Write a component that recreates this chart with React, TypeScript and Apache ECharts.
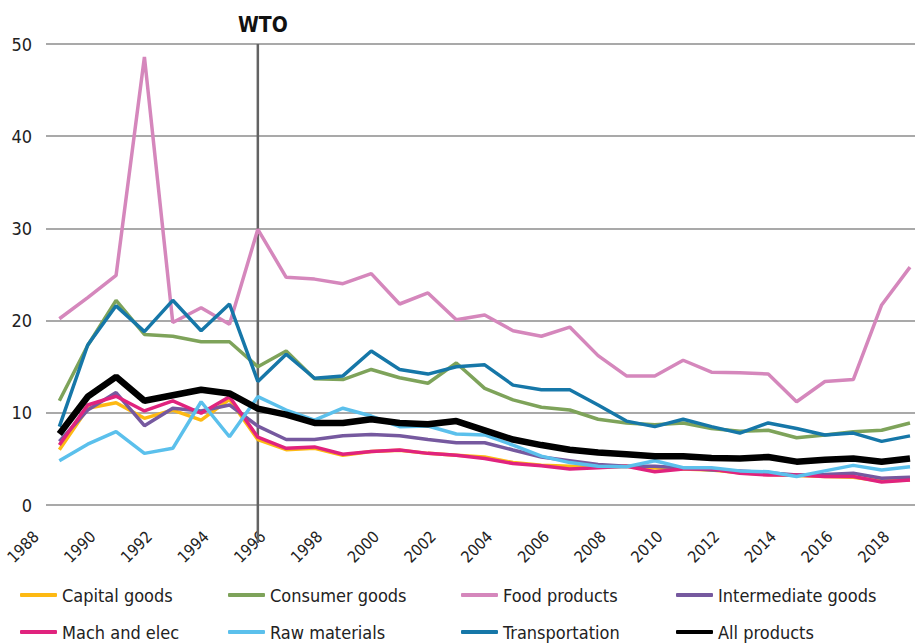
import React, { useEffect, useRef } from "react";
import * as echarts from "echarts";

const years = Array.from({ length: 31 }, (_, i) => 1989 + i);

const capitalGoods = [6.0, 10.5, 11.1, 9.4, 10.3, 9.2, 11.45, 7.1, 6.0, 6.15, 5.4, 5.8, 5.95, 5.6, 5.4, 5.2, 4.6, 4.3, 4.2, 4.1, 4.2, 4.0, 3.9, 3.8, 3.5, 3.3, 3.2, 3.1, 3.0, 2.6, 2.7];
const consumerGoods = [11.3, 17.3, 22.2, 18.5, 18.3, 17.7, 17.7, 15.0, 16.7, 13.7, 13.6, 14.7, 13.8, 13.2, 15.4, 12.65, 11.4, 10.6, 10.3, 9.3, 8.9, 8.7, 8.9, 8.3, 8.0, 8.1, 7.3, 7.6, 7.95, 8.1, 8.9];
const foodProducts = [20.2, 22.5, 24.9, 48.6, 19.8, 21.4, 19.6, 29.9, 24.7, 24.5, 24.0, 25.1, 21.8, 23.0, 20.1, 20.6, 18.9, 18.3, 19.3, 16.2, 14.0, 14.0, 15.7, 14.4, 14.35, 14.2, 11.2, 13.4, 13.6, 21.7, 25.8];
const intermediateGoods = [6.9, 10.3, 12.2, 8.6, 10.5, 10.2, 10.85, 8.55, 7.1, 7.1, 7.5, 7.65, 7.5, 7.1, 6.75, 6.75, 5.97, 5.2, 4.8, 4.4, 4.2, 4.2, 4.0, 3.8, 3.7, 3.5, 3.25, 3.3, 3.45, 2.9, 3.0];
const machAndElec = [6.5, 10.85, 11.8, 10.2, 11.3, 9.95, 11.75, 7.35, 6.15, 6.3, 5.5, 5.8, 5.97, 5.6, 5.4, 5.05, 4.5, 4.25, 3.9, 4.05, 4.2, 3.6, 3.9, 3.9, 3.45, 3.25, 3.25, 3.1, 3.1, 2.5, 2.7];
const rawMaterials = [4.8, 6.6, 7.95, 5.6, 6.15, 11.2, 7.4, 11.75, 10.3, 9.2, 10.5, 9.65, 8.5, 8.57, 7.7, 7.6, 6.5, 5.3, 4.6, 4.2, 4.15, 4.8, 4.05, 4.05, 3.7, 3.6, 3.1, 3.7, 4.3, 3.8, 4.15];
const transportation = [8.5, 17.35, 21.6, 18.8, 22.2, 18.9, 21.8, 13.4, 16.35, 13.75, 14.0, 16.7, 14.7, 14.2, 15.0, 15.2, 13.0, 12.5, 12.5, 10.85, 9.1, 8.5, 9.3, 8.5, 7.8, 8.9, 8.3, 7.6, 7.8, 6.9, 7.5];
const allProducts = [7.7, 11.75, 13.9, 11.3, 11.9, 12.5, 12.1, 10.45, 9.8, 8.9, 8.9, 9.3, 8.9, 8.75, 9.1, 8.1, 7.1, 6.5, 6.0, 5.7, 5.5, 5.3, 5.3, 5.1, 5.05, 5.2, 4.7, 4.9, 5.05, 4.7, 5.05];

const wtoYear = 1996;
const yTicks = [0, 10, 20, 30, 40, 50];

const seriesDefs = [
  { name: "Capital goods", data: capitalGoods, color: "#fdb913", width: 3.5 },
  { name: "Consumer goods", data: consumerGoods, color: "#7ea35a", width: 3.5 },
  { name: "Food products", data: foodProducts, color: "#d587bc", width: 3.5 },
  { name: "Intermediate goods", data: intermediateGoods, color: "#76599f", width: 3.5 },
  { name: "Mach and elec", data: machAndElec, color: "#e0237e", width: 3.5 },
  { name: "Raw materials", data: rawMaterials, color: "#5bc0ec", width: 3.5 },
  { name: "Transportation", data: transportation, color: "#1677a8", width: 3.5 },
  { name: "All products", data: allProducts, color: "#000000", width: 6.5 },
];

const FONT = "'DejaVu Sans Condensed', 'Liberation Sans Narrow', 'Noto Sans', sans-serif";

export default function App() {
  const ref = useRef<HTMLDivElement>(null);
  useEffect(() => {
    if (!ref.current) return;
    const chart = echarts.init(ref.current, undefined, { renderer: "svg" });
    const colLefts = [20, 228, 461, 676];
    const rowTops = [585, 622];
    const legends = seriesDefs.map((s, i) => ({
      orient: "horizontal",
      left: colLefts[i % 4],
      top: rowTops[Math.floor(i / 4)],
      padding: 0,
      itemGap: 8,
      itemWidth: 37,
      itemHeight: 4,
      icon: "roundRect",
      data: [s.name],
      selectedMode: false,
      textStyle: { fontSize: 18, color: "#222", fontFamily: FONT, lineHeight: 20 },
    }));
    chart.setOption({
      animation: false,
      backgroundColor: "#ffffff",
      grid: [
        { left: 31, right: 5, top: 44, height: 461 },
        { left: 46, right: 0, top: 44, height: 461 },
        { left: 31, right: 5, top: 44, height: 499 },
        { left: 36, right: 0, top: 44, height: 461 },
      ],
      xAxis: [
        { type: "value", gridIndex: 0, min: 1988, max: 2019, show: false },
        { type: "value", gridIndex: 1, min: 0, max: 1, show: false },
        { type: "value", gridIndex: 2, min: 1988, max: 2019, show: false },
        {
          type: "value",
          gridIndex: 3,
          min: 1988,
          max: 2019,
          interval: 2,
          axisLine: { show: false },
          axisTick: { show: false },
          splitLine: { show: false },
          axisLabel: {
            rotate: 45,
            margin: 29,
            fontSize: 16,
            color: "#222",
            fontFamily: FONT,
            showMaxLabel: false,
            formatter: (v: number) => String(v),
          },
        },
      ],
      yAxis: [
        { type: "value", gridIndex: 0, min: 0, max: 50, show: false },
        {
          type: "value",
          gridIndex: 1,
          min: yTicks[0],
          max: yTicks[yTicks.length - 1],
          interval: 10,
          axisLine: { show: false },
          axisTick: { show: false },
          splitLine: { lineStyle: { color: "#8c8c8c", width: 1.5 } },
          axisLabel: { margin: 14, fontSize: 18, color: "#222", fontFamily: FONT },
        },
        { type: "value", gridIndex: 2, min: 0, max: 1, show: false },
        { type: "value", gridIndex: 3, min: 0, max: 50, show: false },
      ],
      legend: legends,
      series: [
        {
          name: "WTO",
          type: "line",
          xAxisIndex: 2,
          yAxisIndex: 2,
          data: [[wtoYear, 0], [wtoYear, 1]],
          symbol: "none",
          lineStyle: { color: "#636363", width: 2.5 },
          silent: true,
          z: 1,
        },
        ...seriesDefs.map((s) => ({
          name: s.name,
          type: "line",
          xAxisIndex: 0,
          yAxisIndex: 0,
          data: years.map((y, i) => [y, s.data[i]]),
          symbol: "none",
          color: s.color,
          lineStyle: { color: s.color, width: s.width },
          z: 3,
        })),
      ],
      title: {
        text: "WTO",
        left: 233,
        top: 9,
        textStyle: { fontSize: 21, fontWeight: "bold", color: "#111", fontFamily: FONT },
      },
    });
    return () => chart.dispose();
  }, []);
  return <div ref={ref} style={{ width: 915, height: 643, position: "absolute", left: 0, top: 0 }} />;
}
